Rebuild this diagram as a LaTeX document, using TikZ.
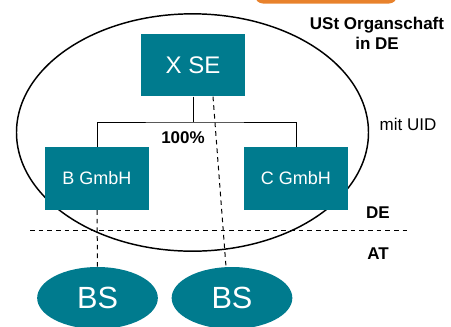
\documentclass[tikz,border=0pt]{standalone}
\usepackage{fontspec}
\setmainfont{Liberation Sans}
\usetikzlibrary{shapes.geometric}
\definecolor{firmteal}{HTML}{007B8E}
\definecolor{topbar}{HTML}{E8822C}
\begin{document}
\begin{tikzpicture}[x=0.75pt,y=-0.75pt]
        \tikzset{firm/.style = {fill=firmteal,text=white,inner sep=0pt,minimum width=78pt,minimum height=47pt}}
        \tikzset{bs/.style = {shape=ellipse,fill=firmteal,text=white,inner sep=0pt,minimum width=90.5pt,minimum height=46.5pt,font=\fontsize{23}{26}\selectfont}}
        \tikzset{lbl/.style = {font=\fontsize{12.75}{15}\selectfont,inner sep=0pt,align=center}}
        \tikzset{border/.style = {dash pattern=on 3.5pt off 3pt,line width=0.75pt}}
        \useasboundingbox (0,0) rectangle (451,326);
        % orange bar at the top
        \fill[topbar,rounded corners=6pt] (255,-20) rectangle (397,3.5);
        % VAT group
        \node[shape=ellipse,draw,line width=1.1pt,inner sep=0pt,minimum width=264pt,minimum height=178pt] (group) at (192.5,132.5) {};
        % companies
        \node[firm,font=\fontsize{18}{21}\selectfont] (xse) at (193,65) {X SE};
        \node[firm,font=\fontsize{13.5}{16}\selectfont] (bg) at (97,178.5) {B GmbH};
        \node[firm,font=\fontsize{13.5}{16}\selectfont] (cg) at (296,178.5) {C GmbH};
        % branches in AT
        \node[bs] (bs1) at (97.5,298) {BS};
        \node[bs] (bs2) at (232,298) {BS};
        % holding lines
        \coordinate (bar) at (193,122);
        \draw[line width=0.75pt] (xse.south) -- (bar);
        \draw[line width=0.75pt] (bg.north) |- (bar) -| (cg.north);
        \node[lbl,font=\bfseries\fontsize{12.75}{15}\selectfont] (share) at (183,138) {100\%};
        % branch lines
        \draw[border] ([xshift=15pt]xse.south) -- ([xshift=-4.5pt]bs2.north);
        \draw[border] (bg.south) -- (bs1.north);
        % border DE / AT
        \coordinate (de-l) at (30,230);
        \coordinate (de-r) at (410,230);
        \draw[border] (de-l) -- (de-r);
        % labels
        \node[lbl,font=\bfseries\fontsize{12.75}{15}\selectfont] (title) at (377,33) {USt Organschaft\\in DE};
        \node[lbl] (uid) at (408,124) {mit UID};
        \node[lbl,font=\bfseries\fontsize{12.75}{15}\selectfont] (de) at (378,213) {DE};
        \node[lbl,font=\bfseries\fontsize{12.75}{15}\selectfont] (at) at (378,254) {AT};
\end{tikzpicture}
\end{document}
